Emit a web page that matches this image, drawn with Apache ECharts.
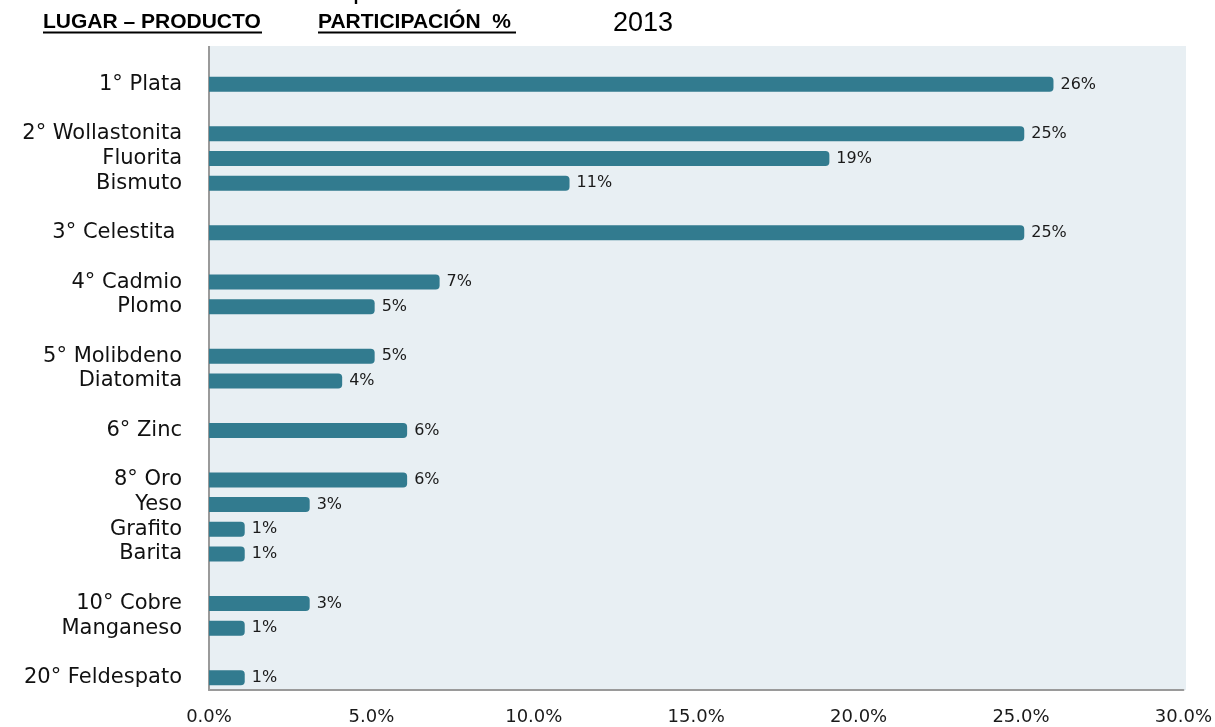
<!DOCTYPE html>
<html>
<head>
<meta charset="utf-8">
<script src="https://cdn.jsdelivr.net/npm/echarts@6.0.0/dist/echarts.min.js"></script>
<style>
  html, body { margin: 0; padding: 0; background: #fff; }
  #chart { width: 1215px; height: 727px; }
</style>
</head>
<body>
<div id="chart"></div>
<script>
// filas del gráfico (las vacías separan los lugares)
var productos = [
  "1° Plata", " ", "2° Wollastonita", "Fluorita", "Bismuto", "  ",
  "3° Celestita ", "   ", "4° Cadmio", "Plomo", "    ",
  "5° Molibdeno", "Diatomita", "     ", "6° Zinc", "      ",
  "8° Oro", "Yeso", "Grafito", "Barita", "       ",
  "10° Cobre", "Manganeso", "        ", "20° Feldespato"
];
// participación % 2013
var participacion = [
  26.0, null, 25.1, 19.1, 11.1, null,
  25.1, null, 7.1, 5.1, null,
  5.1, 4.1, null, 6.1, null,
  6.1, 3.1, 1.1, 1.1, null,
  3.1, 1.1, null, 1.1
];

var chart = echarts.init(document.getElementById("chart"));

var fondo = "#e8eff3";
var gris = "#9a9a9a";

var option = {
  animation: false,
  backgroundColor: "#ffffff",
  textStyle: { fontFamily: "DejaVu Sans" },
  grid: {
    left: 209,
    right: 29,
    top: 72,
    bottom: 37
  },
  graphic: [
    // fondo del área de trazado (empieza más arriba que la primera fila)
    { type: "rect", z: -10, shape: { x: 209, y: 46, width: 977, height: 644 }, style: { fill: fondo } },
    { type: "line", z: 10, shape: { x1: 209, y1: 46, x2: 209, y2: 73 }, style: { stroke: gris, lineWidth: 2 } },
    // encabezados
    { type: "text", x: 353, y: -9, style: { text: "p", font: "27px 'Liberation Sans'", fill: "#000", verticalAlign: "middle" } },
    { type: "text", x: 43, y: 22, style: { text: "LUGAR – PRODUCTO", font: "bold 21px 'Liberation Sans'", fill: "#000", verticalAlign: "middle" } },
    { type: "line", shape: { x1: 43, y1: 32.5, x2: 262, y2: 32.5 }, style: { stroke: "#000", lineWidth: 2 } },
    { type: "text", x: 318, y: 22, style: { text: "PARTICIPACIÓN  %", font: "bold 21px 'Liberation Sans'", fill: "#000", verticalAlign: "middle" } },
    { type: "line", shape: { x1: 318, y1: 32.5, x2: 516, y2: 32.5 }, style: { stroke: "#000", lineWidth: 2 } },
    { type: "text", x: 613, y: 24, style: { text: "2013", font: "27px 'Liberation Sans'", fill: "#000", verticalAlign: "middle" } }
  ],
  xAxis: {
    type: "value",
    min: 0,
    max: 30,
    interval: 5,
    axisLine: { show: true, lineStyle: { color: gris, width: 2 } },
    axisTick: { show: false },
    splitLine: { show: false },
    axisLabel: {
      color: "#1a1a1a",
      fontSize: 18,
      margin: 18,
      formatter: function (v) { return v.toFixed(1) + "%"; }
    }
  },
  yAxis: {
    type: "category",
    inverse: true,
    data: productos,
    axisLine: { show: true, lineStyle: { color: gris, width: 2 } },
    axisTick: { show: false },
    axisLabel: { color: "#111", fontSize: 21, margin: 27, interval: 0 }
  },
  series: [
    {
      type: "bar",
      data: participacion,
      barWidth: 15,
      itemStyle: { color: "#327b8f", borderRadius: [0, 4, 4, 0] },
      label: {
        show: true,
        position: "right",
        distance: 7,
        color: "#1a1a1a",
        fontSize: 16,
        formatter: function (p) { return Math.round(p.value) + "%"; }
      }
    }
  ]
};

chart.setOption(option);
</script>
</body>
</html>
